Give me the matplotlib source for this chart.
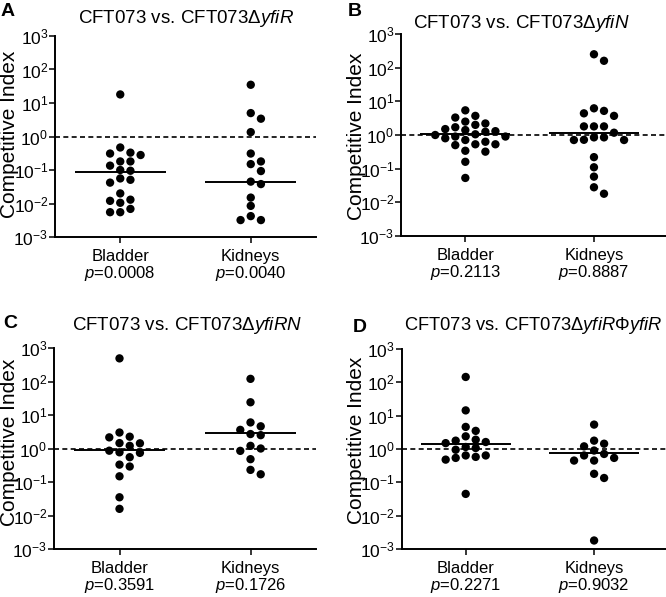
import numpy as np
import matplotlib
matplotlib.use('Agg')
import matplotlib.pyplot as plt
from matplotlib.ticker import FixedLocator, FuncFormatter, NullLocator

plt.rcParams['font.family'] = ['Liberation Sans', 'DejaVu Sans']
plt.rcParams['mathtext.fontset'] = 'custom'
plt.rcParams['mathtext.rm'] = 'Liberation Sans'
plt.rcParams['mathtext.it'] = 'Liberation Sans:italic'
plt.rcParams['mathtext.bf'] = 'Liberation Sans:bold'

W, H = 666, 597

groups = ['Bladder', 'Kidneys']

a_bladder = [18, 0.47, 0.33, 0.31, 0.28, 0.18, 0.18, 0.135, 0.10, 0.095, 0.056, 0.051,
             0.042, 0.020, 0.013, 0.012, 0.0105, 0.0069, 0.0055, 0.0055]
a_kidneys = [35, 5.0, 3.4, 1.35, 0.31, 0.15, 0.18, 0.093, 0.045, 0.038, 0.015, 0.0085,
             0.0042, 0.0032, 0.0032]
b_bladder = [5.4, 3.3, 3.7, 2.5, 2.0, 2.2, 1.7, 1.5, 1.3, 1.25, 1.4, 0.9, 1.0, 0.9, 1.05,
             0.8, 0.71, 0.63, 0.53, 0.5, 0.53, 0.32, 0.34, 0.16, 0.053]
b_kidneys = [250, 160, 6.2, 5.2, 4.4, 3.7, 1.8, 1.8, 1.8, 1.17, 0.85, 0.71, 0.71, 0.72,
             0.85, 0.22, 0.11, 0.058, 0.028, 0.018]
c_bladder = [490, 3.0, 2.25, 2.15, 1.45, 1.43, 1.2, 0.77, 0.74, 0.86, 0.55, 0.29, 0.33,
             0.148, 0.035, 0.0158]
c_kidneys = [120, 24, 6.0, 4.6, 3.6, 2.7, 2.5, 1.2, 1.0, 0.85, 0.48, 0.23, 0.17]
d_bladder = [145, 14.4, 4.6, 3.5, 2.4, 1.78, 1.9, 1.62, 1.5, 1.15, 0.95, 1.07, 0.64, 0.54,
             0.48, 0.58, 0.64, 0.045]
d_kidneys = [5.4, 1.44, 1.2, 1.78, 0.71, 0.54, 0.45, 0.45, 0.64, 0.9, 0.18, 0.135, 0.0018]

a_medians = [0.085, 0.043]
b_medians = [1.1, 1.17]
c_medians = [0.9, 2.9]
d_medians = [1.41, 0.76]

a_pvalues = ['0.0008', '0.0040']
b_pvalues = ['0.2113', '0.8887']
c_pvalues = ['0.3591', '0.1726']
d_pvalues = ['0.2271', '0.9032']

titles = [r'CFT073 vs. CFT073Δ$\mathit{yfiR}$',
          r'CFT073 vs. CFT073Δ$\mathit{yfiN}$',
          r'CFT073 vs. CFT073Δ$\mathit{yfiRN}$',
          r'CFT073 vs. CFT073Δ$\mathit{yfiR}$Φ$\mathit{yfiR}$']
letters = ['A', 'B', 'C', 'D']


def swarm(vals, step=0.078, thr=0.245):
    # simple column beeswarm on log scale
    logs = np.log10(vals)
    order = np.argsort(-logs, kind='stable')
    placed = {}
    offs = np.zeros(len(vals))
    cands = [0]
    for j in range(1, 20):
        cands += [j, -j]
    for i in order:
        for c in cands:
            if all(abs(logs[i] - y) >= thr for y in placed.get(c, [])):
                break
        placed.setdefault(c, []).append(logs[i])
        offs[i] = c * step
    return offs


def panel(box, xright, data, medians, pvals):
    l, t, r, b = box
    ax = fig.add_axes([l / W, 1 - b / H, (r - l) / W, (b - t) / H])
    ax.set_yscale('log')
    ax.set_ylim(1e-3, 1e3)
    ax.set_xlim(-0.5, xright)
    ax.axhline(1, color='black', lw=1.2, dashes=(3, 2), zorder=1)
    for i, vals in enumerate(data):
        xs = i + swarm(vals)
        ax.scatter(xs, vals, s=36, color='black', edgecolors='none', zorder=3, clip_on=False)
        ax.hlines(medians[i], i - 0.35, i + 0.35, color='black', lw=1.4, zorder=2)
    ax.yaxis.set_major_locator(FixedLocator([10.0 ** k for k in range(-3, 4)]))
    ax.yaxis.set_minor_locator(NullLocator())
    ax.yaxis.set_major_formatter(FuncFormatter(lambda v, p: r'$10^{%d}$' % round(np.log10(v))))
    ax.set_xticks([0, 1])
    ax.set_xticklabels([g + '\n' + r'$\mathit{p}$=' + pv for g, pv in zip(groups, pvals)],
                       fontsize=12, linespacing=1.0)
    ax.tick_params(axis='y', labelsize=12.5, length=4.3, width=1.1, pad=0.5)
    ax.tick_params(axis='x', length=4.3, width=1.1, pad=4.5)
    for s in ['top', 'right']:
        ax.spines[s].set_visible(False)
    for s in ['left', 'bottom']:
        ax.spines[s].set_linewidth(1.4)
    return ax


fig = plt.figure(figsize=(W / 100, H / 100), dpi=100)

panel((55, 36, 316, 237), 1.5, [a_bladder, a_kidneys], a_medians, a_pvalues)
panel((401, 34, 666, 236), 1.56, [b_bladder, b_kidneys], b_medians, b_pvalues)
panel((54, 348, 316, 549), 1.5, [c_bladder, c_kidneys], c_medians, c_pvalues)
panel((401.5, 349, 666, 549), 1.56, [d_bladder, d_kidneys], d_medians, d_pvalues)

title_pos = [(78, 23), (413, 28), (72, 330), (404, 330)]
title_size = [13.5, 13.5, 13.5, 13.2]
letter_pos = [(1, 16.5), (348, 16), (3, 328), (353, 332)]
ylabel_pos = [(10, 134), (357, 136), (10, 442), (357, 440)]

for k in range(4):
    tx, ty = title_pos[k]
    fig.text(tx / W, 1 - ty / H, titles[k], fontsize=title_size[k], ha='left', va='baseline')
    lx, ly = letter_pos[k]
    fig.text(lx / W, 1 - ly / H, letters[k], fontsize=14, fontweight='bold',
             ha='left', va='baseline')
    yx, yy = ylabel_pos[k]
    fig.text(yx / W, 1 - yy / H, 'Competitive Index', fontsize=15, rotation=90,
             ha='center', va='center')

fig.savefig('out.png', dpi=100)
